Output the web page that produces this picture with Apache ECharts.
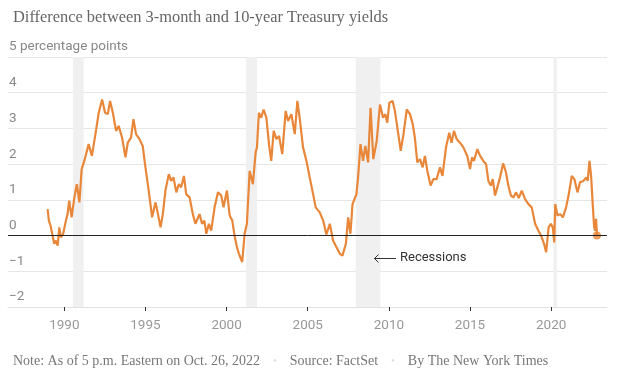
<!DOCTYPE html>
<html>
<head>
<meta charset="utf-8">
<script src="https://cdn.jsdelivr.net/npm/echarts@6/dist/echarts.min.js"></script>
<style>
  html, body { margin: 0; padding: 0; background: #fff; }
  #chart { width: 632px; height: 377px; }
</style>
</head>
<body>
<div id="chart"></div>
<script>
// decimal years and spread (10-year minus 3-month)
const dates = [
  1988.97, 1989.05, 1989.15, 1989.38, 1989.48, 1989.59, 1989.69, 1989.79, 1989.93, 1990.10,
  1990.20, 1990.30, 1990.45, 1990.62, 1990.77, 1990.93, 1991.07, 1991.23, 1991.50, 1991.70,
  1991.95, 1992.12, 1992.33, 1992.51, 1992.68, 1992.82, 1992.99, 1993.19, 1993.35, 1993.56,
  1993.77, 1993.91, 1994.11, 1994.26, 1994.42, 1994.63, 1994.83, 1995.00, 1995.20, 1995.41,
  1995.62, 1995.75, 1995.93, 1996.07, 1996.23, 1996.44, 1996.58, 1996.73, 1996.90, 1997.06,
  1997.20, 1997.37, 1997.51, 1997.72, 1997.92, 1998.08, 1998.33, 1998.49, 1998.63, 1998.75,
  1998.91, 1999.05, 1999.26, 1999.47, 1999.67, 1999.81, 2000.02, 2000.19, 2000.35, 2000.49,
  2000.64, 2000.76, 2000.96, 2001.11, 2001.25, 2001.42, 2001.62, 2001.79, 2001.87, 2001.99,
  2002.13, 2002.28, 2002.45, 2002.61, 2002.75, 2002.90, 2003.07, 2003.23, 2003.43, 2003.64,
  2003.79, 2003.99, 2004.20, 2004.36, 2004.50, 2004.71, 2004.92, 2005.12, 2005.33, 2005.49,
  2005.74, 2005.95, 2006.15, 2006.36, 2006.56, 2006.77, 2006.98, 2007.14, 2007.35, 2007.49,
  2007.63, 2007.76, 2008.00, 2008.10, 2008.25, 2008.41, 2008.55, 2008.72, 2008.87, 2009.04,
  2009.25, 2009.45, 2009.64, 2009.78, 2009.90, 2010.03, 2010.23, 2010.37, 2010.58, 2010.73,
  2010.90, 2011.10, 2011.30, 2011.47, 2011.60, 2011.75, 2011.92, 2012.08, 2012.22, 2012.37,
  2012.57, 2012.74, 2012.94, 2013.15, 2013.30, 2013.52, 2013.72, 2013.86, 2014.01, 2014.18,
  2014.38, 2014.59, 2014.83, 2015.00, 2015.12, 2015.24, 2015.45, 2015.62, 2015.82, 2015.99,
  2016.13, 2016.28, 2016.40, 2016.54, 2016.68, 2016.85, 2017.04, 2017.21, 2017.36, 2017.52,
  2017.67, 2017.84, 2018.00, 2018.19, 2018.39, 2018.60, 2018.80, 2019.01, 2019.21, 2019.42,
  2019.56, 2019.69, 2019.84, 2019.98, 2020.10, 2020.19, 2020.25, 2020.39, 2020.56, 2020.72,
  2020.92, 2021.07, 2021.27, 2021.43, 2021.62, 2021.78, 2021.99, 2022.16, 2022.25, 2022.36,
  2022.46, 2022.56, 2022.65, 2022.71, 2022.77, 2022.82
];
const spread = [
  0.74, 0.42, 0.28, -0.23, -0.14, -0.28, 0.23, -0.05, 0.05, 0.42,
  0.60, 0.98, 0.51, 1.07, 1.44, 0.93, 1.86, 2.09, 2.56, 2.23,
  2.93, 3.44, 3.81, 3.44, 3.40, 3.77, 3.44, 2.93, 3.07, 2.74,
  2.19, 2.60, 2.74, 3.26, 2.84, 2.70, 2.51, 1.91, 1.26, 0.51,
  0.93, 0.65, 0.23, 0.60, 1.26, 1.72, 1.53, 1.63, 1.21, 1.44,
  1.35, 1.67, 1.16, 1.07, 0.60, 0.33, 0.60, 0.33, 0.42, 0.05,
  0.33, 0.14, 0.79, 1.21, 1.12, 0.79, 1.26, 0.56, 0.42, 0.00,
  -0.33, -0.51, -0.74, 0.05, 0.33, 1.81, 1.44, 2.33, 2.47, 3.44,
  3.30, 3.53, 3.30, 2.56, 2.09, 2.93, 2.70, 2.79, 2.28, 3.49,
  3.21, 3.40, 2.84, 3.77, 3.30, 2.47, 2.09, 1.63, 1.16, 0.79,
  0.65, 0.42, 0.03, 0.33, -0.14, -0.33, -0.51, -0.56, -0.23, 0.51,
  0.05, 0.88, 1.16, 1.63, 2.56, 2.09, 2.51, 2.05, 3.58, 2.14,
  2.65, 3.67, 3.30, 3.40, 3.16, 3.72, 3.77, 3.49, 2.84, 2.37,
  2.84, 3.53, 3.40, 3.12, 2.74, 2.05, 2.14, 1.91, 2.23, 1.81,
  1.40, 1.58, 1.58, 1.91, 1.67, 2.47, 2.88, 2.60, 2.93, 2.70,
  2.60, 2.47, 2.23, 1.86, 2.19, 2.09, 2.42, 2.23, 2.09, 2.00,
  1.53, 1.40, 1.58, 1.12, 1.35, 1.63, 2.02, 1.78, 1.40, 1.12,
  1.07, 1.21, 1.05, 1.26, 1.02, 0.88, 0.79, 0.33, 0.14, -0.05,
  -0.23, -0.47, 0.23, 0.33, 0.23, -0.19, 0.88, 0.56, 0.60, 0.51,
  0.79, 1.12, 1.67, 1.58, 1.21, 1.49, 1.53, 1.63, 1.53, 2.09,
  1.67, 0.88, 0.23, 0.14, 0.47, 0.00
];
// recession start / end (decimal years)
const recessionStart = [1990.53, 2001.21, 2007.96, 2020.14];
const recessionEnd = [1991.19, 2001.87, 2009.48, 2020.35];
const yearTicks = [1990, 1995, 2000, 2005, 2010, 2015, 2020];

const orange = '#e8873a';
const points = dates.map((d, i) => [d, spread[i]]);
const last = points[points.length - 1];

const chart = echarts.init(document.getElementById('chart'));
chart.setOption({
  animation: false,
  backgroundColor: '#fff',
  title: [
    {
      text: 'Difference between 3-month and 10-year Treasury yields',
      left: 8,
      top: 5,
      textStyle: {
        fontFamily: 'Liberation Serif',
        fontSize: 16.4,
        fontWeight: 'normal',
        color: '#666'
      }
    },
    {
      text: 'Note: As of 5 p.m. Eastern on Oct. 26, 2022{dot|•}Source: FactSet{dot|•}By The New York Times',
      left: 8,
      top: 349,
      textStyle: {
        fontFamily: 'Liberation Serif',
        fontSize: 14,
        fontWeight: 'normal',
        color: '#777',
        rich: {
          dot: { color: '#ddd', fontSize: 11, padding: [0, 13, 0, 13] }
        }
      }
    }
  ],
  grid: {
    left: 8,
    right: 25,
    top: 57,
    bottom: 70,
    containLabel: false,
    outerBoundsMode: 'none'
  },
  xAxis: {
    type: 'value',
    min: 1986.53,
    max: 2023.44,
    splitLine: { show: false },
    axisLine: { show: true, onZero: false, lineStyle: { color: '#e2e2e2' } },
    axisTick: {
      show: true,
      customValues: yearTicks,
      length: 4,
      lineStyle: { color: '#333' }
    },
    axisLabel: {
      customValues: yearTicks,
      margin: 12,
      fontFamily: 'Roboto',
      fontSize: 13.5,
      color: '#999',
      formatter: v => String(Math.round(v))
    }
  },
  yAxis: {
    type: 'value',
    min: -2,
    max: 5,
    interval: 1,
    axisLine: { show: false },
    axisTick: { show: false },
    splitLine: { lineStyle: { color: '#e6e6e6', width: 1 } },
    axisLabel: {
      inside: true,
      margin: 1,
      verticalAlign: 'bottom',
      lineHeight: 14,
      padding: [0, 0, 3, 0],
      fontFamily: 'Roboto',
      fontSize: 13.5,
      color: '#888',
      formatter: v => v === 5 ? '5 percentage points' : (v < 0 ? '\u2212' + Math.abs(v) : String(v))
    }
  },
  series: [
    {
      name: 'recessions',
      type: 'line',
      data: [],
      silent: true,
      markArea: {
        silent: true,
        itemStyle: { color: '#f0f0f0' },
        data: recessionStart.map((s, i) => [{ xAxis: s }, { xAxis: recessionEnd[i] }])
      },
      markLine: {
        silent: true,
        symbol: 'none',
        label: { show: false },
        lineStyle: { color: '#222', width: 1, type: 'solid' },
        data: [{ yAxis: 0 }]
      }
    },
    {
      name: 'spread',
      type: 'line',
      data: points,
      showSymbol: false,
      lineStyle: { color: orange, width: 2.2 },
      z: 3
    },
    {
      name: 'latest',
      type: 'scatter',
      data: [last],
      symbolSize: 8,
      itemStyle: { color: orange },
      z: 4
    }
  ],
  graphic: [
    {
      type: 'polyline',
      z: 10,
      shape: { points: [[396, 258.5], [374, 258.5]] },
      style: { stroke: '#333', lineWidth: 1, fill: 'none' }
    },
    {
      type: 'polyline',
      z: 10,
      shape: { points: [[378.5, 254.5], [374.5, 258.5], [378.5, 262.5]] },
      style: { stroke: '#333', lineWidth: 1, fill: 'none' }
    },
    {
      type: 'text',
      z: 10,
      left: 400,
      top: 251,
      style: {
        text: 'Recessions',
        fontFamily: 'Roboto',
        fontSize: 13,
        fill: '#333'
      }
    }
  ]
});
</script>
</body>
</html>
